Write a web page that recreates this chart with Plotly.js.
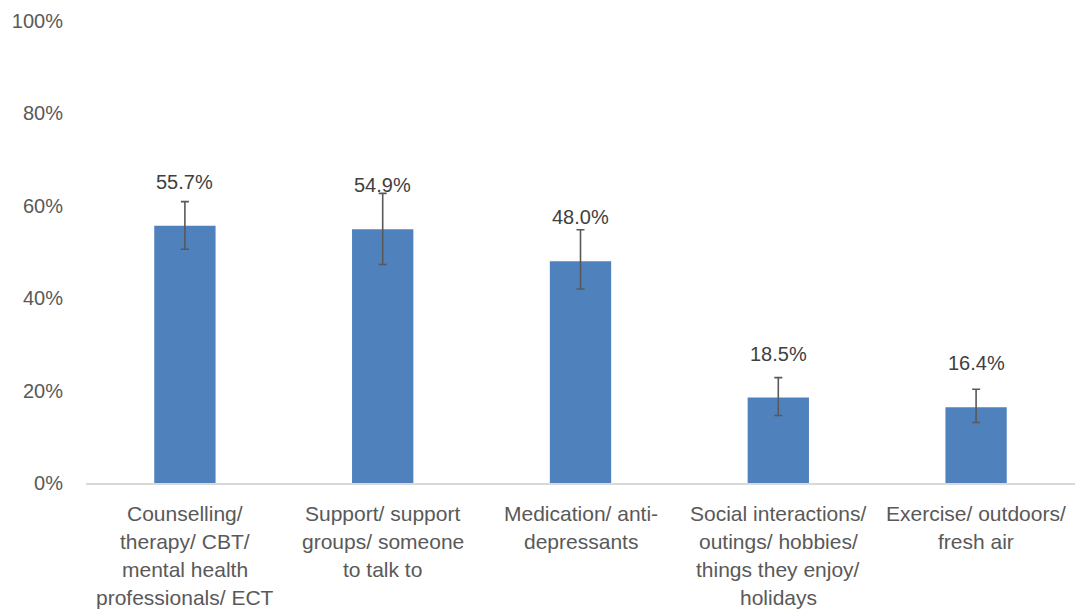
<!DOCTYPE html>
<html><head><meta charset="utf-8">
<script src="https://cdn.plot.ly/plotly-3.0.1.min.js"></script>
<style>html,body{margin:0;padding:0;background:#fff}#chart{width:1077px;height:610px}</style>
</head><body><div id="chart"></div>
<script>
const categories = [
  "Counselling/ therapy/ CBT/ mental health professionals/ ECT",
  "Support/ support groups/ someone to talk to",
  "Medication/ anti-depressants",
  "Social interactions/ outings/ hobbies/ things they enjoy/ holidays",
  "Exercise/ outdoors/ fresh air"
];
const categoryLines = [
  ["Counselling/", "therapy/ CBT/", "mental health", "professionals/ ECT"],
  ["Support/ support", "groups/ someone", "to talk to"],
  ["Medication/ anti-", "depressants"],
  ["Social interactions/", "outings/ hobbies/", "things they enjoy/", "holidays"],
  ["Exercise/ outdoors/", "fresh air"]
];
const values = [0.557, 0.549, 0.480, 0.185, 0.164];
const errPlus = [0.052, 0.078, 0.068, 0.043, 0.039];
const errMinus = [0.051, 0.076, 0.060, 0.039, 0.033];
const labels = ["55.7%", "54.9%", "48.0%", "18.5%", "16.4%"];
const yTicks = [0, 0.2, 0.4, 0.6, 0.8, 1.0];

const FONT = "'Liberation Sans', Arial, sans-serif";
const FIRST_OFFSET = 30;
const LINE_H = 28;

const trace = {
  type: 'bar',
  x: categories,
  y: values,
  width: 0.31,
  marker: {color: '#4f81bd'},
  error_y: {type: 'data', symmetric: false, array: errPlus, arrayminus: errMinus,
            color: '#595959', thickness: 1.6, width: 4},
  hoverinfo: 'none'
};

const annotations = categories.map((c, i) => ({
  x: c, y: values[i], xref: 'x', yref: 'y', text: labels[i], showarrow: false,
  yshift: 44, font: {family: FONT, size: 20, color: '#404040'}
}));
categories.forEach((c, i) => {
  categoryLines[i].forEach((line, j) => {
    annotations.push({
      x: c, y: 0, xref: 'x', yref: 'y', text: line, showarrow: false,
      yanchor: 'middle', yshift: -(FIRST_OFFSET + LINE_H * j),
      font: {family: FONT, size: 21, color: '#595959'}
    });
  });
});

const layout = {
  width: 1077, height: 610,
  margin: {l: 86, r: 2, t: 21, b: 127},
  paper_bgcolor: '#fff', plot_bgcolor: '#fff',
  showlegend: false,
  bargap: 0.69,
  font: {family: FONT, size: 20, color: '#595959'},
  xaxis: {showgrid: false, showline: true, linecolor: '#d9d9d9', linewidth: 1.5,
          ticks: '', showticklabels: false, zeroline: false},
  yaxis: {range: [0, 1], tickvals: yTicks, tickformat: '.0%', showgrid: false,
          showline: false, zeroline: false, ticks: '', ticklabelstandoff: 22,
          tickfont: {family: FONT, size: 20, color: '#595959'}},
  annotations: annotations
};

Plotly.newPlot('chart', [trace], layout, {displayModeBar: false, staticPlot: true});
</script></body></html>
